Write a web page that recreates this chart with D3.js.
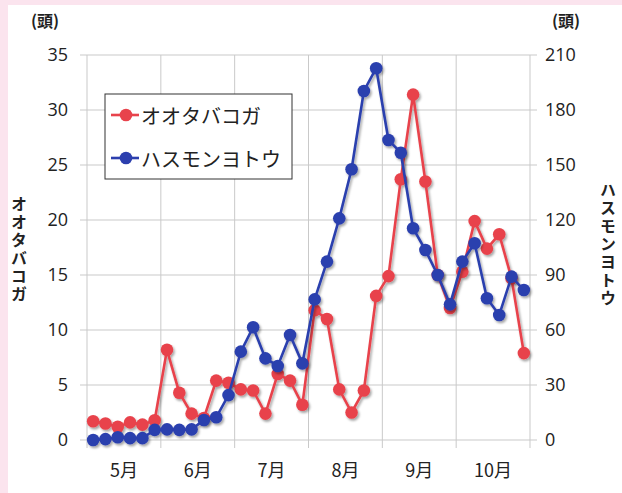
<!DOCTYPE html>
<html>
<head>
<meta charset="utf-8">
<script src="https://cdn.jsdelivr.net/npm/d3@7"></script>
<style>
  body { margin:0; background:#fff; }
  text { font-family: "Noto Sans CJK JP", "Noto Sans", sans-serif; fill:#222; }
</style>
</head>
<body>
<svg id="chart" width="622" height="493"></svg>
<script>
// donnees (une valeur tous les 5 jours, mai -> octobre)
var months = ["5月", "6月", "7月", "8月", "9月", "10月"];
var leftTicks = [0, 5, 10, 15, 20, 25, 30, 35];
var rightTicks = [0, 30, 60, 90, 120, 150, 180, 210];
var otaba = [1.7, 1.5, 1.2, 1.6, 1.4, 1.8, 8.2, 4.3, 2.4, 2.0, 5.4, 5.2,
             4.6, 4.5, 2.4, 6.0, 5.4, 3.2, 11.8, 11.0, 4.6, 2.5, 4.5, 13.1,
             14.9, 23.7, 31.4, 23.5, 15.0, 12.0, 15.3, 19.9, 17.4, 18.7, 14.7, 7.9];
var hasumon = [0, 0.5, 1.5, 1, 1, 5.5, 5.8, 5.5, 5.8, 10.9, 12.4, 24.5,
               48.2, 61.5, 44.5, 40.4, 57.3, 41.8, 76.7, 97.3, 120.9, 147.7, 190.4, 202.8,
               163.6, 156.7, 115.5, 103.6, 90, 74, 97.3, 107.3, 77.3, 68.2, 89.1, 81.8];
var red = "#e8434c", blue = "#2c3fae";

var svg = d3.select("#chart");

// cadre rose
svg.append("rect").attr("width", 622).attr("height", 493).attr("fill", "#fbe4ee");
svg.append("rect").attr("x", 8).attr("y", 5).attr("width", 614).attr("height", 488).attr("fill", "#fff");

var defs = svg.append("defs");
var f = defs.append("filter").attr("id", "sh").attr("x", "-50%").attr("y", "-50%").attr("width", "200%").attr("height", "200%");
f.append("feDropShadow").attr("dx", 1.5).attr("dy", 2).attr("stdDeviation", 1.2)
  .attr("flood-color", "#000").attr("flood-opacity", 0.35);

var x = d3.scaleLinear().domain([0, 36]).range([87, 530]);
var yL = d3.scaleLinear().domain([0, 35]).range([440, 55]);
var yR = d3.scaleLinear().domain([0, 210]).range([440, 55]);

// grille
svg.append("g").selectAll("line").data(leftTicks).enter().append("line")
  .attr("x1", 80).attr("x2", 537)
  .attr("y1", function(d){ return yL(d); }).attr("y2", function(d){ return yL(d); })
  .attr("stroke", "#c9c9c9").attr("stroke-width", 1);
svg.append("g").selectAll("line").data(d3.range(0, 37, 6)).enter().append("line")
  .attr("x1", function(d){ return x(d); }).attr("x2", function(d){ return x(d); })
  .attr("y1", 55).attr("y2", 448)
  .attr("stroke", "#c9c9c9").attr("stroke-width", 1);

// axes gauche / droite
var axL = svg.append("g").attr("transform", "translate(80,0)")
  .call(d3.axisLeft(yL).tickValues(leftTicks).tickSize(0).tickPadding(12));
var axR = svg.append("g").attr("transform", "translate(537,0)")
  .call(d3.axisRight(yR).tickValues(rightTicks).tickSize(0).tickPadding(8));
[axL, axR].forEach(function(a){
  a.select(".domain").remove();
  a.selectAll("text").style("font-size", "18px").attr("fill", "#222")
    .style("font-family", "'Open Sans', sans-serif");
});

// mois
svg.append("g").selectAll("text").data(months).enter().append("text")
  .attr("x", function(d, i){ return x(i * 6 + 3); })
  .attr("y", 477).attr("text-anchor", "middle")
  .style("font-size", "18px")
  .text(function(d){ return d; });

// unites
svg.append("text").attr("x", 45).attr("y", 27).attr("text-anchor", "middle")
  .style("font-size", "16px").style("font-weight", "bold").text("(頭)");
svg.append("text").attr("x", 566).attr("y", 27).attr("text-anchor", "middle")
  .style("font-size", "16px").style("font-weight", "bold").text("(頭)");

// titres verticaux (un seul texte en ecriture verticale)
function vertical(label, cx, cy){
  svg.append("text")
    .attr("x", cx).attr("y", cy)
    .attr("text-anchor", "middle")
    .style("writing-mode", "vertical-rl")
    .style("text-orientation", "upright")
    .style("letter-spacing", "2px")
    .style("font-size", "16px").style("font-weight", "bold")
    .text(label);
}
vertical("オオタバコガ", 19, 250);
vertical("ハスモンヨトウ", 608, 245);

// series
function series(vals, y, color){
  var g = svg.append("g").attr("filter", "url(#sh)");
  g.append("path").datum(vals)
    .attr("fill", "none").attr("stroke", color).attr("stroke-width", 2.6)
    .attr("d", d3.line().x(function(d, i){ return x(i + 0.5); }).y(function(d){ return y(d); }));
  g.selectAll("circle").data(vals).enter().append("circle")
    .attr("cx", function(d, i){ return x(i + 0.5); })
    .attr("cy", function(d){ return y(d); })
    .attr("r", 6.3).attr("fill", color);
}
series(otaba, yL, red);
series(hasumon, yR, blue);

// legende
var lg = svg.append("g");
lg.append("rect").attr("x", 105).attr("y", 94).attr("width", 187).attr("height", 85)
  .attr("fill", "#fff").attr("stroke", "#333").attr("stroke-width", 1);
var leg = [{name: "オオタバコガ", c: red, y: 115}, {name: "ハスモンヨトウ", c: blue, y: 158}];
var items = lg.selectAll("g.it").data(leg).enter().append("g").attr("class", "it");
items.append("line").attr("x1", 111).attr("x2", 139)
  .attr("y1", function(d){ return d.y; }).attr("y2", function(d){ return d.y; })
  .attr("stroke", function(d){ return d.c; }).attr("stroke-width", 2.6);
items.append("circle").attr("cx", 126).attr("cy", function(d){ return d.y; }).attr("r", 6.3)
  .attr("fill", function(d){ return d.c; });
items.append("text").attr("x", 141).attr("y", function(d){ return d.y; })
  .attr("dominant-baseline", "central").style("font-size", "20px")
  .text(function(d){ return d.name; });
</script>
</body>
</html>
